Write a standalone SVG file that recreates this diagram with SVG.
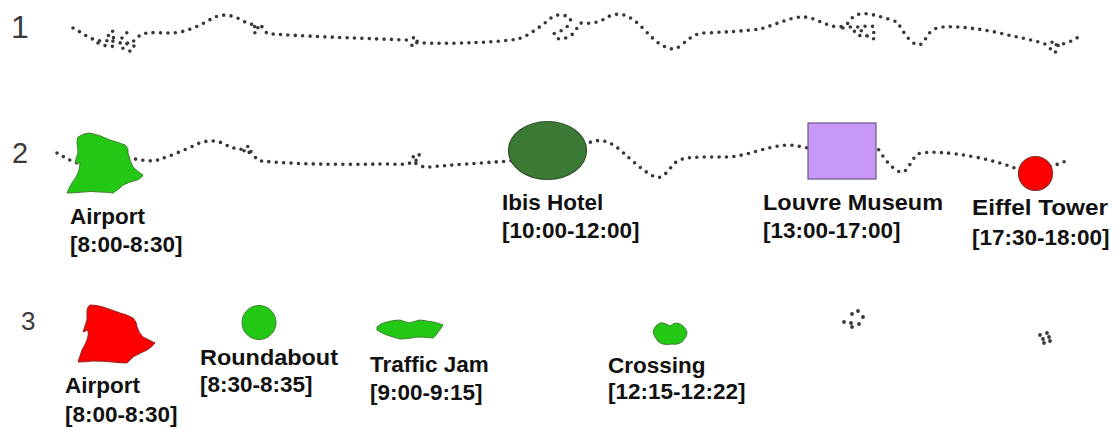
<svg xmlns="http://www.w3.org/2000/svg" width="1115" height="429" viewBox="0 0 1115 429">
<style>
.trk{fill:none;stroke:#383838;stroke-width:3.6;stroke-linecap:round;stroke-linejoin:round;stroke-dasharray:0 7.4}
.dot{fill:#383838}
.num{font-family:"Liberation Sans",Arial,sans-serif;fill:#3a3a3a}
.lbl{font-family:"Liberation Sans",Arial,sans-serif;font-weight:bold;font-size:22.5px;fill:#111}
.lime{fill:#22c814;stroke:#3f7f30;stroke-width:1}
</style>
<rect width="1115" height="429" fill="#fff"/>

<g id="row-numbers">
<text class="num" x="11" y="38" font-size="32">1</text>
<text class="num" x="12" y="163" font-size="29">2</text>
<text class="num" x="21" y="330" font-size="26">3</text>
</g>

<g id="connectors">
<path id="track1" class="trk" d="M73,28 L80,32 L88,37 C96,41 104,42 110,40 C116,38 116,31 111,31 C106,31 108,40 115,42 C122,44 128,42 132,44 C136,46 134,52 128,51 C122,50 120,45 126,44 C132,43 136,40 140,35 C150,30 165,35 180,32 C195,29 205,22 215,17 C225,13 235,16 243,21 C250,25 256,24 258,28 C260,33 254,35 253,30 C252,25 262,24 264,29 C266,33 268,35 272,34 C300,36 350,38 408,40 C414,36 418,38 417,42 C416,47 411,48 412,44 C413,40 420,41 422,43 C460,44 500,42 518,39 C528,36 538,28 545,23 C550,18 556,14 562,15 C568,16 572,18 570,22 C568,28 560,32 555,33 C552,34 556,40 562,39 C568,38 574,34 576,30 C578,26 579,23 582,23 C592,24 600,22 606,18 C612,14 620,13 627,16 C640,22 650,38 660,44 C668,49 674,51 680,46 C688,40 694,33 705,33 C725,32 745,31 760,29 C775,25 790,17 803,17 C815,17 825,26 838,27 C845,27 850,22 852,18 C856,13 866,13 874,15 C882,17 892,20 897,22 C901,27 905,36 912,42 C917,46 922,46 925,40 C928,33 933,28 942,27 C960,26 980,29 1000,33 C1015,37 1030,39 1045,44 C1050,42 1056,41 1058,45 C1060,50 1054,55 1051,51 C1048,47 1056,44 1062,44 C1068,43 1074,40 1080,36"/>
<path class="trk" d="M843,28 C850,26 858,28 866,26 C874,24 878,30 872,34 C866,38 858,36 855,33 C852,30 860,28 864,33 C868,38 874,40 878,38"/>
<path class="trk" d="M98,43 C104,46 110,47 116,46 M122,38 C126,36 128,33 126,31"/>
<path id="track2" class="trk" d="M57,153 C62,156 68,159 75,163 L130,158 C140,160 150,162 158,160 C170,156 185,150 195,145 C205,140 215,140 222,143 C228,146 233,148 240,150 C244,147 248,145 250,148 C252,152 246,156 244,152 C243,148 252,150 254,155 C256,159 258,161 262,161 C290,164 340,165 380,164 C395,164 405,165 410,163 C413,158 414,153 418,154 C422,156 418,162 414,160 C411,158 416,165 420,166 C424,167 426,167 430,167 C450,165 480,163 510,161 L588,143 C598,139 606,140 615,146 C625,153 640,170 655,177 C663,180 668,170 675,163 C682,156 700,157 730,157 C750,155 770,145 790,145 C800,146 805,148 810,148 L877,147 C882,155 890,168 900,172 C908,174 910,160 918,154 C925,151 950,152 975,157 C995,161 1010,166 1020,170 L1053,166 L1066,161"/>
<g id="track3-dots">
<circle class="dot" cx="852" cy="314" r="1.9"/><circle class="dot" cx="858" cy="311" r="1.9"/><circle class="dot" cx="863" cy="317" r="1.9"/><circle class="dot" cx="844" cy="322" r="1.9"/><circle class="dot" cx="851" cy="323" r="1.9"/><circle class="dot" cx="852" cy="327" r="1.9"/><circle class="dot" cx="859" cy="324" r="1.9"/>
<circle class="dot" cx="1040" cy="335" r="1.9"/><circle class="dot" cx="1047" cy="333" r="1.9"/><circle class="dot" cx="1049" cy="337" r="1.9"/><circle class="dot" cx="1050" cy="341" r="1.9"/><circle class="dot" cx="1043" cy="339" r="1.9"/><circle class="dot" cx="1044" cy="343" r="1.9"/>
</g>
</g>

<g id="airport2">
<path class="lime" d="M78,137 Q84,133 90,133 Q100,135 110,140 Q120,143 125,145 Q129,148 128,153 Q130,161 133,167 Q138,172 143,175 Q141,179 137,180 Q129,182 123,185 Q118,190 113,193 Q106,192 100,192 Q90,191 83,192 Q74,193 67,193 Q69,188 72,183 Q76,178 78,173 Q80,168 80,163 L75,163 Q76,158 78,153 Q78,148 77,143 Q77,139 78,137 Z"/>
<text class="lbl" x="70" y="224">Airport</text>
<text class="lbl" x="70" y="252">[8:00-8:30]</text>
</g>

<g id="ibis">
<ellipse cx="547.5" cy="150.5" rx="39" ry="29" fill="#3b7a34" stroke="#2c4f28" stroke-width="1.2"/>
<text class="lbl" x="502" y="210">Ibis Hotel</text>
<text class="lbl" x="502" y="238">[10:00-12:00]</text>
</g>

<g id="louvre">
<rect x="808" y="123" width="68" height="56" fill="#c898f6" stroke="#6e5484" stroke-width="1.2"/>
<text class="lbl" x="763" y="210" textLength="180" lengthAdjust="spacingAndGlyphs">Louvre Museum</text>
<text class="lbl" x="763" y="238">[13:00-17:00]</text>
</g>

<g id="eiffel">
<circle cx="1035.5" cy="173.5" r="17" fill="#ff0000" stroke="#8a2a2a" stroke-width="1.2"/>
<text class="lbl" x="972" y="215" textLength="136" lengthAdjust="spacingAndGlyphs">Eiffel Tower</text>
<text class="lbl" x="972" y="245">[17:30-18:00]</text>
</g>

<g id="airport3">
<path d="M90,305 Q97,305 103,307 Q112,310 120,313 Q128,315 133,318 Q137,322 137,327 Q139,333 143,337 Q149,340 155,343 Q152,347 147,350 Q140,353 133,357 Q130,360 127,363 Q120,363 113,362 Q103,361 93,361 Q85,362 78,362 Q80,356 82,350 Q85,345 87,340 Q89,335 88,330 L83,332 Q85,326 87,320 Q87,314 87,310 Q88,306 90,305 Z" fill="#ff0000" stroke="#8a2a2a" stroke-width="1"/>
<text class="lbl" x="65" y="393">Airport</text>
<text class="lbl" x="65" y="422">[8:00-8:30]</text>
</g>

<g id="roundabout">
<circle cx="259" cy="322.5" r="17" class="lime"/>
<text class="lbl" x="200" y="365" textLength="138" lengthAdjust="spacingAndGlyphs">Roundabout</text>
<text class="lbl" x="200" y="392">[8:30-8:35]</text>
</g>

<g id="trafficjam">
<path class="lime" d="M377,327 Q381,323 387,322 Q394,320 400,320 Q405,322 410,323 Q415,321 420,320 Q427,321 433,322 Q438,323 443,325 Q441,329 438,332 Q436,336 433,338 Q425,337 417,337 Q408,339 400,339 Q393,337 387,335 Q381,333 377,330 Z"/>
<text class="lbl" x="370" y="372">Traffic Jam</text>
<text class="lbl" x="370" y="400">[9:00-9:15]</text>
</g>

<g id="crossing">
<path class="lime" d="M653,332 Q654,327 657,325 Q660,322 663,323 Q667,324 670,326 Q673,323 677,323 Q681,324 683,326 Q686,329 687,332 Q687,336 685,338 Q683,342 680,343 Q676,345 672,344 Q667,345 663,344 Q659,343 657,340 Q654,336 653,332 Z"/>
<text class="lbl" x="608" y="373">Crossing</text>
<text class="lbl" x="608" y="399">[12:15-12:22]</text>
</g>
</svg>
